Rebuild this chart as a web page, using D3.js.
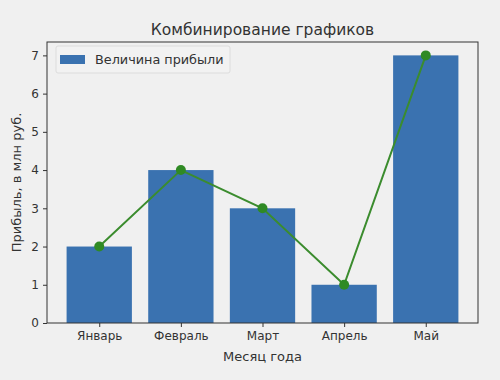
<!DOCTYPE html>
<html>
<head>
<meta charset="utf-8">
<script src="https://cdn.jsdelivr.net/npm/d3@7"></script>
<style>
  body { margin: 0; background: #f0f0f0; }
  text { font-family: "DejaVu Sans", sans-serif; fill: #333; }
</style>
</head>
<body>
<div id="chart"></div>
<script>
// data
var months = ["Январь", "Февраль", "Март", "Апрель", "Май"];
var profit = [2, 4, 3, 1, 7];
var yTicks = [0, 1, 2, 3, 4, 5, 6, 7];

var width = 500, height = 380;
var mLeft = 47, mRight = 478, mTop = 42, mBottom = 323;

var svg = d3.select("#chart").append("svg")
    .attr("width", width).attr("height", height);

svg.append("rect").attr("width", width).attr("height", height).attr("fill", "#f0f0f0");

// matplotlib-like continuous x: bars at 0..4, width 0.8
var x = d3.scaleLinear().domain([-0.64, 4.64]).range([mLeft, mRight]);
var y = d3.scaleLinear().domain([0, 7.35]).range([mBottom, mTop]);

svg.selectAll("rect.bar")
    .data(profit)
    .enter()
    .append("rect")
    .attr("class", "bar")
    .attr("x", function(d, i) { return x(i - 0.4); })
    .attr("width", x(0.8) - x(0))
    .attr("y", function(d) { return y(d); })
    .attr("height", function(d) { return y(0) - y(d); })
    .attr("fill", "#3a72b0");

var line = d3.line()
    .x(function(d, i) { return x(i); })
    .y(function(d) { return y(d); });

svg.append("path")
    .datum(profit)
    .attr("d", line)
    .attr("fill", "none")
    .attr("stroke", "#3b8c2e")
    .attr("stroke-width", 2);

svg.selectAll("circle.pt")
    .data(profit)
    .enter()
    .append("circle")
    .attr("class", "pt")
    .attr("cx", function(d, i) { return x(i); })
    .attr("cy", function(d) { return y(d); })
    .attr("r", 5)
    .attr("fill", "#2f8a24");

// frame
svg.append("rect")
    .attr("x", mLeft).attr("y", mTop)
    .attr("width", mRight - mLeft).attr("height", mBottom - mTop)
    .attr("fill", "none").attr("stroke", "#333").attr("stroke-width", 1);

// axes
var xAxis = svg.append("g")
    .attr("transform", "translate(0," + mBottom + ")")
    .call(d3.axisBottom(x).tickValues(d3.range(months.length))
        .tickFormat(function(i) { return months[i]; })
        .tickSize(4).tickPadding(4));

var yAxis = svg.append("g")
    .attr("transform", "translate(" + mLeft + ",0)")
    .call(d3.axisLeft(y).tickValues(yTicks).tickSize(4).tickPadding(4));

[xAxis, yAxis].forEach(function(g) {
    g.select(".domain").remove();
    g.selectAll("line").attr("stroke", "#333");
    g.selectAll("text").style("font-size", "12px").attr("fill", "#333")
        .style("font-family", "DejaVu Sans, sans-serif");
});

// title and labels
svg.append("text")
    .attr("x", (mLeft + mRight) / 2).attr("y", 35)
    .attr("text-anchor", "middle")
    .style("font-size", "15.5px")
    .text("Комбинирование графиков");

svg.append("text")
    .attr("x", (mLeft + mRight) / 2).attr("y", 361)
    .attr("text-anchor", "middle")
    .style("font-size", "13px")
    .text("Месяц года");

svg.append("text")
    .attr("transform", "translate(21," + ((mTop + mBottom) / 2) + ") rotate(-90)")
    .attr("text-anchor", "middle")
    .style("font-size", "13px")
    .text("Прибыль, в млн руб.");

// legend
var lg = svg.append("g").attr("transform", "translate(56,46)");
lg.append("rect")
    .attr("width", 174).attr("height", 27).attr("rx", 2)
    .attr("fill", "#f2f2f2").attr("stroke", "#dcdcdc");
lg.append("rect")
    .attr("x", 4).attr("y", 9).attr("width", 25).attr("height", 9)
    .attr("fill", "#3a72b0");
lg.append("text")
    .attr("x", 39).attr("y", 18)
    .style("font-size", "12.8px")
    .text("Величина прибыли");
</script>
</body>
</html>
